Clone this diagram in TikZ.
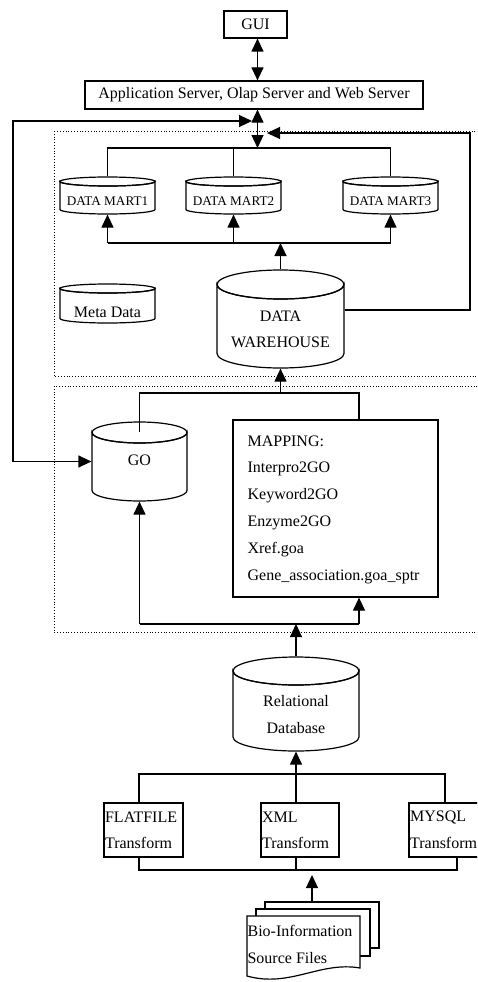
\documentclass[tikz,border=0pt]{standalone}
\usepackage{fontspec}
\setmainfont{Liberation Serif}
\usetikzlibrary{arrows.meta}
\newcommand\mainsz{\fontsize{16}{18}\selectfont}
\newcommand\smallsz{\fontsize{13.2}{15}\selectfont}
% name, cx, rx, ytop, ybot, ry
\newcommand\dbcyl[6]{%
  \path[draw, fill=white] (#2-#3,#4+#6) -- (#2-#3,#5-#6)
     arc[start angle=180, end angle=0, x radius=#3, y radius=#6]
     -- (#2+#3,#4+#6)
     arc[start angle=0, end angle=180, x radius=#3, y radius=#6] -- cycle;
  \draw (#2,#4+#6) ellipse[x radius=#3, y radius=#6];
  \node[inner sep=0pt, minimum width=2*#3, minimum height=#5-#4] (#1) at (#2,{(#4+#5)/2}) {};
}
\begin{document}
\begin{tikzpicture}[x=1pt, y=-1pt, line width=1.2pt,
  every node/.style={font=\mainsz},
  box/.style={draw, inner sep=0pt},
  lbl/.style={inner sep=0pt, anchor=west},
  sm/.style={font=\smallsz, inner sep=0pt},
  tip/.style={-{Triangle[length=13pt,width=12pt]}},
  dtip/.style={{Triangle[length=13pt,width=12pt]}-{Triangle[length=13pt,width=12pt]}},
  dotbox/.style={dotted, line width=0.8pt}]
\useasboundingbox (0,0) rectangle (477,982);
\clip (0,0) rectangle (477,982);

% dotted groups
\draw[dotbox] (54,131) rectangle (490,376);
\draw[dotbox] (54,386) rectangle (490,632);

% top
\node[box, minimum width=63, minimum height=27] (gui) at (255.5,24.5) {GUI};
\node[box, minimum width=338, minimum height=28] (app) at (254,95) {Application Server, Olap Server and Web Server};
\coordinate (hub) at (257.5,148);
\coordinate (hubL) at (252,121);
\coordinate (hubR) at (267,133);
\draw[dtip] (gui.south -| hub) -- (app.north -| hub);
\draw[dtip] (app.south -| hub) -- (hub);

% data marts
\dbcyl{dm1}{107.5}{47.5}{177}{214}{4.5}
\dbcyl{dm2}{233.5}{47.5}{177}{214}{4.5}
\dbcyl{dm3}{390.5}{47.5}{177}{214}{4.5}
\node[sm] at (107.5,201) {DATA MART1};
\node[sm] at (233.5,201) {DATA MART2};
\node[sm] at (390.5,201) {DATA MART3};
\draw (dm1.north) -- (dm1.north |- hub) -- (dm3.north |- hub) -- (dm3.north);
\draw (dm2.north) -- (dm2.north |- hub);

% data warehouse
\dbcyl{dw}{280.5}{63.5}{270}{368}{14.5}
\node at (280.5,316) {DATA};
\node at (280.5,342) {WAREHOUSE};
\coordinate (bus2) at (280.5,243);
\draw[tip] (dw.north) -- (bus2);
\draw (dm1.south |- bus2) -- (dm3.south |- bus2);
\draw[tip] (dm1.south |- bus2) -- (dm1.south);
\draw[tip] (dm2.south |- bus2) -- (dm2.south);
\draw[tip] (dm3.south |- bus2) -- (dm3.south);

% meta data
\dbcyl{meta}{107.5}{47.5}{284}{323}{4.5}
\node at (107.5,312) {Meta Data};

% right loop
\draw[tip] ([yshift=9pt]dw.east) -- (470,310) -- (470,133) -- (hubR);

% GO
\dbcyl{go}{139.5}{47.5}{422}{501}{10.5}
\node at (139.5,460) {GO};
\draw[dtip] (hubL) -| (13,461.5) -- (go.west);

% mapping
\node[box, minimum width=205, minimum height=177] (map) at (335.5,508.5) {};
\node[lbl] at (247,441) {MAPPING:};
\node[lbl] at (247,469) {Interpro2GO};
\node[lbl] at (247,496) {Keyword2GO};
\node[lbl] at (247,523) {Enzyme2GO};
\node[lbl] at (247,549.5) {Xref.goa};
\node[lbl] at (247,577) {Gene\_association.goa\_sptr};
\coordinate (b3) at (280.5,393);
\coordinate (mx) at (359,393);
\draw[tip] (b3) -- (dw.south);
\draw ([yshift=-10.5pt]go.north) |- (mx) -- (mx |- map.north);

% relational database
\dbcyl{rdb}{296}{63}{657}{751}{14}
\node at (296,701) {Relational};
\node at (296,728) {Database};
\coordinate (b4) at (296,624);
\draw[tip] (rdb.north) -- (b4);
\draw (b4 -| go.south) -- (b4 -| mx);
\draw[tip] (b4 -| go.south) -- (go.south);
\draw[tip] (b4 -| mx) -- (mx |- map.south);

% transforms
\node[box, minimum width=79, minimum height=54] (ff) at (143.5,830) {};
\node[box, minimum width=78, minimum height=54] (xml) at (300,830) {};
\node[box, minimum width=78, minimum height=54] (my) at (448,830) {};
\node[lbl] at (104.5,817) {FLATFILE};
\node[lbl] at (104.5,843) {Transform};
\node[lbl] at (261.5,817) {XML};
\node[lbl] at (261.5,843) {Transform};
\node[lbl] at (409.5,817) {MYSQL};
\node[lbl] at (409.5,843) {Transform};
\coordinate (b5l) at (139,774);
\coordinate (b5r) at (445,774);
\draw (b5l |- ff.north) -- (b5l) -- (b5r) -- (b5r |- my.north);
\draw[tip] (xml.north -| rdb.south) -- (rdb.south);
\coordinate (b6l) at (139,870);
\coordinate (b6r) at (457,870);
\draw (b6l |- ff.south) -- (b6l) -- (b6r) -- (b6r |- my.south);
\draw (xml.south -| rdb.south) -- (b6l -| rdb.south);

% source files
\node[box, fill=white, minimum width=114, minimum height=46] (doc3) at (322,925) {};
\node[box, fill=white, minimum width=114, minimum height=47] (doc2) at (313,932.5) {};
\draw[fill=white] (247,916) -- (360,916) -- (360,968)
   .. controls (320,961) and (290,988) .. (247,976) -- cycle;
\node[lbl] at (247,931) {Bio-Information};
\node[lbl] at (247,958) {Source Files};
\coordinate (srcup) at (312,875);
\draw[tip] (doc3.north -| srcup) -- (srcup);
\end{tikzpicture}
\end{document}
